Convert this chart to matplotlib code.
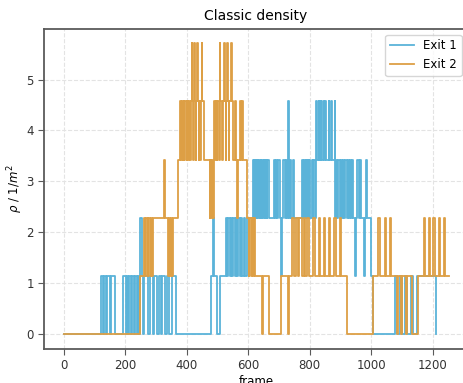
import numpy as np
import matplotlib
matplotlib.use('Agg')
from matplotlib import pyplot as plt

# density = persons / area, area of the measurement box 0.875 m^2
area = 0.875

# Exit 1: frame where the count changes, and the new count
exit1_frames = [0, 122, 127, 131, 137, 140, 150, 153, 167, 192, 203, 206, 210, 213, 220, 223, 230, 233, 238, 241, 244,
                249, 254, 258, 262, 273, 280, 290, 294, 303, 310, 316, 320, 330, 336, 342, 353, 366,
                479, 484, 490, 500, 509, 527, 531, 535, 540, 543, 548, 552, 556, 560, 565, 568, 572, 576, 580, 585, 590,
                596, 614, 618, 620, 623, 625, 628, 630, 633, 635, 638, 640, 643, 645, 648, 650, 654, 656, 660, 662, 666,
                684, 688, 691, 695, 698, 702, 707, 711, 714, 718, 722, 726, 730, 732, 735, 738, 746, 749,
                775, 778, 781, 784, 787, 790, 792, 796, 799, 802, 806, 809, 812, 816,
                821, 823, 829, 831, 836, 838, 843, 845, 851, 853, 861, 863, 870, 872, 881, 883,
                886, 890, 893, 897, 900, 905, 908, 912, 915, 920, 923, 928, 931, 935, 938, 942, 948, 951, 955, 959, 962, 966,
                975, 978, 984, 987, 999, 1007, 1078, 1083, 1094, 1101, 1110, 1116, 1129, 1134, 1147, 1210, 1211]
exit1_counts = [0, 1, 0, 1, 0, 1, 0, 1, 0, 1, 0, 1, 0, 1, 0, 1, 0, 1, 0, 1, 0,
                2, 1, 0, 1, 0, 1, 0, 1, 0, 1, 0, 1, 0, 1, 0, 1, 0,
                1, 2, 1, 0, 1, 2, 1, 2, 1, 2, 1, 2, 1, 2, 1, 2, 1, 2, 1, 2, 1,
                2, 3, 2, 3, 2, 3, 2, 3, 2, 3, 2, 3, 2, 3, 2, 3, 2, 3, 2, 3, 2,
                3, 2, 3, 2, 3, 2, 1, 2, 3, 2, 3, 2, 4, 2, 3, 2, 3, 2,
                3, 2, 3, 2, 3, 2, 3, 2, 3, 2, 3, 2, 3, 2,
                4, 3, 4, 3, 4, 3, 4, 3, 4, 3, 4, 3, 4, 3, 4, 2,
                3, 2, 3, 2, 3, 2, 3, 2, 3, 2, 3, 2, 3, 2, 3, 2, 1, 2, 3, 2, 3, 2,
                1, 2, 3, 2, 1, 0, 1, 0, 1, 0, 1, 0, 1, 0, 1, 0, 0]

# Exit 2
exit2_frames = [0, 249, 260, 264, 267, 273, 276, 281, 284, 289, 292, 325, 329, 341, 344, 347, 350, 353, 356, 372,
                379, 382, 385, 388, 391, 393, 396, 400, 402, 405, 408, 411, 414, 416, 418, 421, 423, 425, 427, 429,
                431, 434, 436, 439, 441, 444, 446, 449, 451, 455, 475, 477, 479, 482, 485, 488,
                490, 493, 495, 498, 500, 505, 507, 509, 514, 517, 522, 524, 527, 529, 531, 533, 536, 539, 545, 547, 549,
                558, 561, 565, 568, 574, 578, 580, 582, 596, 601, 604, 608, 611, 616, 619, 623, 645, 648, 666,
                707, 729, 732, 742, 750, 756, 761, 766, 774, 780, 785, 791, 796, 812, 818, 829, 834, 845, 850,
                861, 866, 879, 886, 897, 902, 921, 1005, 1023, 1027, 1043, 1047, 1061, 1065,
                1083, 1086, 1096, 1099, 1114, 1117, 1132, 1153, 1170, 1174, 1186, 1190, 1202, 1206, 1219, 1223,
                1235, 1240, 1251]
exit2_counts = [0, 1, 2, 1, 2, 1, 2, 1, 2, 1, 2, 3, 2, 1, 2, 1, 2, 1, 2, 3,
                4, 3, 4, 3, 4, 3, 4, 3, 4, 3, 4, 3, 4, 5, 4, 3, 4, 5, 4, 3,
                4, 5, 4, 3, 4, 3, 4, 5, 4, 3, 2, 3, 2, 3, 2, 3,
                4, 3, 4, 3, 4, 3, 5, 4, 3, 4, 5, 4, 3, 4, 5, 4, 3, 4, 5, 4, 3,
                4, 3, 2, 3, 4, 3, 4, 3, 2, 1, 2, 1, 2, 1, 2, 1, 0, 1, 0,
                1, 0, 1, 2, 1, 2, 1, 2, 1, 2, 1, 2, 1, 2, 1, 2, 1, 2, 1,
                2, 1, 2, 1, 2, 1, 0, 1, 2, 1, 2, 1, 2, 1,
                0, 1, 0, 1, 0, 1, 0, 1, 2, 1, 2, 1, 2, 1, 2, 1,
                2, 1, 1]

labels = ['Exit 1', 'Exit 2']
colors = ['#5ab3d9', '#dd9f45']

fig = plt.figure(figsize=(4.64, 3.83), dpi=100)
ax = fig.add_axes([0.0955, 0.0896, 0.912, 0.8355])

for fr, cnt, lab, c in zip([exit1_frames, exit2_frames], [exit1_counts, exit2_counts], labels, colors):
    ax.plot(fr, np.array(cnt) / area, drawstyle='steps-post', color=c, lw=1.3, label=lab)

ax.set_xlim(-62.5, 1312.5)
ax.set_ylim(-0.286, 6.0)
ax.set_xticks([0, 200, 400, 600, 800, 1000, 1200])
ax.set_yticks([0, 1, 2, 3, 4, 5])
ax.grid(True, ls='--', color='#e3e3e3', lw=0.8)
ax.set_axisbelow(True)
for s in ax.spines.values():
    s.set_color('#5a5a5a')
    s.set_linewidth(1.3)
ax.tick_params(colors='#333333', labelsize=8.5, length=4, color='#5a5a5a')
ax.set_title('Classic density', fontsize=10)
ax.set_xlabel('frame', fontsize=8.5, labelpad=2)
ax.set_ylabel(r'$\rho$ / 1/$m^2$', fontsize=8.5, labelpad=1)
ax.legend(loc='upper right', fontsize=8.5, edgecolor='#cccccc')

fig.savefig('out.png', dpi=100)
